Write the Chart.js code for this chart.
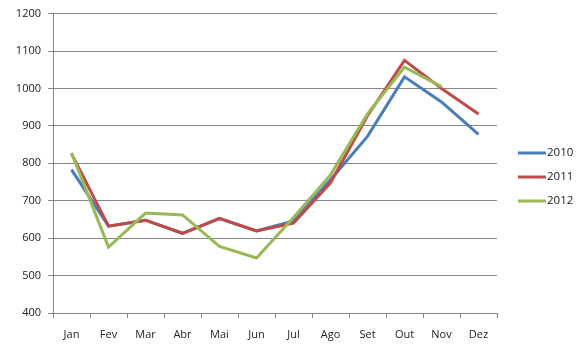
<!DOCTYPE html>
<html>
<head>
<meta charset="utf-8">
<script src="https://cdn.jsdelivr.net/npm/chart.js@4"></script>
<style>
  html, body { margin: 0; padding: 0; background: #fff; }
  #wrap { width: 586px; height: 354px; position: relative; }
</style>
</head>
<body>
<div id="wrap"><canvas id="lineChart"></canvas></div>
<script>
const months = ['Jan', 'Fev', 'Mar', 'Abr', 'Mai', 'Jun', 'Jul', 'Ago', 'Set', 'Out', 'Nov', 'Dez'];
const sales2010 = [783, 632, 648, 613, 652, 619, 646, 756, 872, 1031, 964, 877];
const sales2011 = [826, 632, 648, 613, 653, 619, 640, 748, 927, 1075, 1000, 932];
const sales2012 = [828, 576, 667, 662, 578, 547, 655, 769, 932, 1057, 1005, null];
const yTicks = [400, 500, 600, 700, 800, 900, 1000, 1100, 1200];

const gridColor = '#868686';
const fontFamily = '"Open Sans", "Liberation Sans", sans-serif';

// legend drawn by hand so it sits where Excel put it
const sideLegend = {
  id: 'sideLegend',
  afterDraw(chart) {
    const c = chart.ctx;
    const top = 153;
    c.save();
    chart.data.datasets.forEach((ds, i) => {
      const y = top + i * 24;
      c.strokeStyle = ds.borderColor;
      c.lineWidth = 3;
      c.beginPath();
      c.moveTo(518, y);
      c.lineTo(546, y);
      c.stroke();
      c.fillStyle = '#222';
      c.font = '11.5px ' + fontFamily;
      c.textBaseline = 'middle';
      c.fillText(ds.label, 547, y);
    });
    c.restore();
  }
};

const ctx = document.getElementById('lineChart').getContext('2d');
new Chart(ctx, {
  type: 'line',
  data: {
    labels: months,
    datasets: [
      { label: '2010', data: sales2010, borderColor: '#4a7ebb', order: 3 },
      { label: '2011', data: sales2011, borderColor: '#be4b48', order: 2 },
      { label: '2012', data: sales2012, borderColor: '#98b954', order: 1 }
    ].map(d => Object.assign(d, { borderWidth: 3, pointRadius: 0, tension: 0, fill: false }))
  },
  options: {
    responsive: true,
    maintainAspectRatio: false,
    animation: false,
    layout: { padding: { top: 10, right: 89, left: 0, bottom: 0 } },
    plugins: { legend: { display: false }, tooltip: { enabled: false } },
    scales: {
      x: {
        offset: true,
        grid: { offset: true, drawOnChartArea: false, color: gridColor, tickLength: 5 },
        border: { color: gridColor },
        ticks: { color: '#222', padding: 10, font: { family: fontFamily, size: 11 }, maxRotation: 0 },
        afterFit(scale) { scale.height = 41; }
      },
      y: {
        min: 400,
        max: 1200,
        afterBuildTicks(scale) { scale.ticks = yTicks.map(v => ({ value: v })); },
        grid: { color: gridColor, tickLength: 5 },
        border: { color: gridColor },
        ticks: {
          color: '#222',
          padding: 7,
          font: { family: fontFamily, size: 11 },
          callback: v => String(v)
        },
        afterFit(scale) { scale.width = 53; }
      }
    }
  },
  plugins: [sideLegend]
});
</script>
</body>
</html>
